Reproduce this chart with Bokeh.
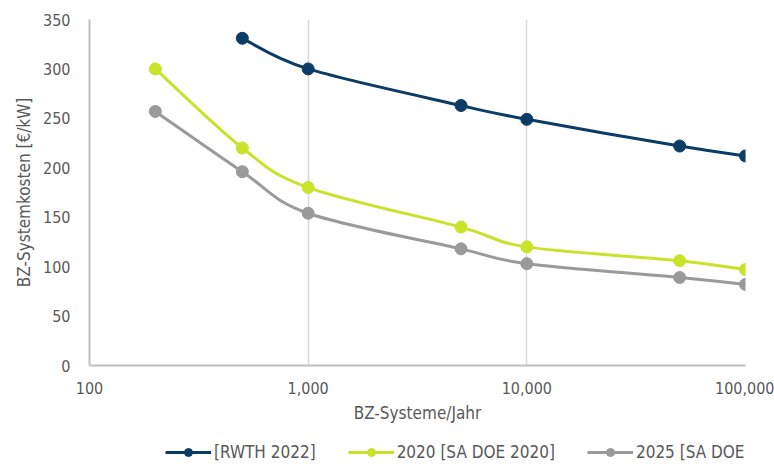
import numpy as np
from bokeh.plotting import figure
from bokeh.layouts import column
from bokeh.models import (FixedTicker, NumeralTickFormatter, Legend, LegendItem,
                          ColumnDataSource)
from bokeh.embed import file_html
from bokeh.resources import INLINE

# Fuel cell system cost [EUR/kW] versus production volume [systems/year]
rwth_x = [500, 1000, 5000, 10000, 50000, 100000]
rwth_y = [331, 300, 263, 249, 222, 212]

doe2020_x = [200, 500, 1000, 5000, 10000, 50000, 100000]
doe2020_y = [300, 220, 180, 140, 120, 106, 97]

doe2025_x = [200, 500, 1000, 5000, 10000, 50000, 100000]
doe2025_y = [257, 196, 154, 118, 103, 89, 82]

series_names = ["[RWTH 2022]", "2020 [SA DOE 2020]", "2025 [SA DOE 2020]"]
series_colors = ["#0B3C66", "#C9E32B", "#9A9A9A"]

x_ticks = [100, 1000, 10000, 100000]
y_ticks = [0, 50, 100, 150, 200, 250, 300, 350]

FONT = "DejaVu Sans Condensed"
TEXT_COLOR = "#595959"

p = figure(width=774, height=436, x_axis_type="log",
           x_range=(100, 100000), y_range=(0, 350),
           output_backend="svg", toolbar_location=None,
           min_border_left=89, min_border_right=29,
           min_border_top=19, min_border_bottom=71)
p.outline_line_color = None
p.background_fill_color = "white"


def smooth_segments(xs, ys):
    """Cubic Bezier segments (Catmull-Rom style) through the points, in log-x space."""
    lx = np.log10(np.asarray(xs, dtype=float))
    yy = np.asarray(ys, dtype=float)
    n = len(lx)
    seg = dict(x0=[], y0=[], x1=[], y1=[], cx0=[], cy0=[], cx1=[], cy1=[])
    for i in range(n - 1):
        i0, i3 = max(i - 1, 0), min(i + 2, n - 1)
        c0x = lx[i] + (lx[i + 1] - lx[i0]) / 6
        c0y = yy[i] + (yy[i + 1] - yy[i0]) / 6
        c1x = lx[i + 1] - (lx[i3] - lx[i]) / 6
        c1y = yy[i + 1] - (yy[i3] - yy[i]) / 6
        seg["x0"].append(10 ** lx[i]); seg["y0"].append(yy[i])
        seg["x1"].append(10 ** lx[i + 1]); seg["y1"].append(yy[i + 1])
        seg["cx0"].append(10 ** c0x); seg["cy0"].append(c0y)
        seg["cx1"].append(10 ** c1x); seg["cy1"].append(c1y)
    return ColumnDataSource(seg)


all_x = [rwth_x, doe2020_x, doe2025_x]
all_y = [rwth_y, doe2020_y, doe2025_y]

for color, xs, ys in zip(series_colors, all_x, all_y):
    p.bezier(x0="x0", y0="y0", x1="x1", y1="y1",
             cx0="cx0", cy0="cy0", cx1="cx1", cy1="cy1",
             source=smooth_segments(xs, ys),
             line_color=color, line_width=3)
    p.scatter(xs, ys, size=12, fill_color=color, line_color=color)

# axes
p.xaxis.ticker = FixedTicker(ticks=x_ticks)
p.xaxis.formatter = NumeralTickFormatter(format="0,0")
p.yaxis.ticker = FixedTicker(ticks=y_ticks)
for ax in (p.xaxis[0], p.yaxis[0]):
    ax.axis_line_color = "#C0C0C0"
    ax.axis_line_width = 2
    ax.major_tick_line_color = None
    ax.minor_tick_line_color = None
    ax.major_label_text_font = FONT
    ax.major_label_text_font_size = "16px"
    ax.major_label_text_color = TEXT_COLOR
    ax.axis_label_text_font = FONT
    ax.axis_label_text_font_size = "17px"
    ax.axis_label_text_font_style = "normal"
    ax.axis_label_text_color = TEXT_COLOR

p.xaxis.axis_label = "BZ-Systeme/Jahr"
p.yaxis.axis_label = "BZ-Systemkosten [€/kW]"
p.xaxis.major_label_standoff = 10
p.xaxis.axis_label_standoff = 6
p.yaxis.major_label_standoff = 13
p.yaxis.axis_label_standoff = 6

p.xgrid.grid_line_color = "#D9D9D9"
p.xgrid.grid_line_width = 1.5
p.ygrid.grid_line_color = None

# legend strip: same series styles, drawn outside its visible range so only the legend shows
leg = figure(width=774, height=28, x_range=(0, 1), y_range=(0, 1),
             x_axis_location=None, y_axis_location=None,
             output_backend="svg", toolbar_location=None,
             min_border_left=0, min_border_right=0,
             min_border_top=0, min_border_bottom=0)
leg.grid.grid_line_color = None
leg.outline_line_color = None

items = []
for name, color, xs, ys in zip(series_names, series_colors, all_x, all_y):
    ln = leg.line(xs, ys, line_color=color, line_width=3)
    dt = leg.scatter(xs, ys, size=12, fill_color=color, line_color=color)
    items.append(LegendItem(label=name, renderers=[ln, dt]))

legend = Legend(items=items, orientation="horizontal", location=(76, 2),
                label_text_font=FONT, label_text_font_size="17px",
                label_text_color=TEXT_COLOR, glyph_width=46, glyph_height=20,
                label_standoff=3, spacing=32, border_line_color=None,
                background_fill_alpha=0, margin=0, padding=2)
leg.add_layout(legend, "center")

open("out.html", "w").write(file_html(column(p, leg, spacing=0), INLINE))
